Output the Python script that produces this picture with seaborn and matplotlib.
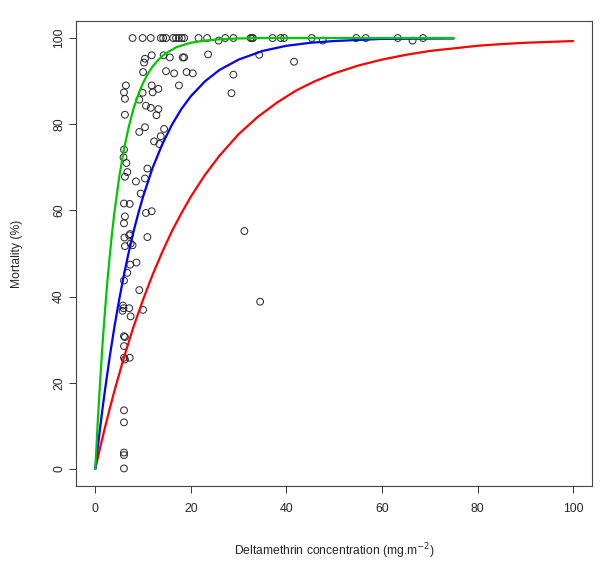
"""Mortality vs deltamethrin concentration with three fitted dose-response curves."""

import matplotlib
matplotlib.use("Agg")
import matplotlib.pyplot as plt
import pandas as pd
import seaborn as sns

# ── Data ──────────────────────────────────────────────────────────────────────

obs_conc = [
    # points at (or very near) 100 %
    7.8, 9.9, 11.6, 13.7, 14.2, 14.8, 16.3, 16.9, 17.5, 18.1, 18.6, 21.6, 23.4,
    25.8, 27.2, 28.9, 32.5, 32.8, 33.0, 37.1, 38.8, 39.5, 45.3, 47.6, 54.6,
    56.6, 63.3, 66.4, 68.6,
    # upper cloud
    23.6, 34.3, 41.6, 28.9, 28.5, 10.4, 10.2, 11.8, 14.3, 15.6, 18.3, 18.6,
    10.0, 14.8, 16.5, 19.1, 20.4, 17.5, 6.4, 6.0, 6.2, 11.8, 13.2, 12.0, 9.9,
    9.2, 10.6, 11.6, 13.2, 12.8, 6.2, 10.4, 9.2, 14.4, 13.7, 12.3, 13.4,
    # middle
    6.0, 5.9, 6.5, 10.9, 6.7, 6.2, 8.5, 10.4, 9.5, 6.0, 7.2, 11.8, 10.6,
    6.2, 6.0, 7.1, 7.3, 6.1, 10.9, 6.2, 7.8, 7.4, 8.6, 7.3, 6.7, 6.0, 9.2,
    5.8, 5.9, 5.7, 7.1, 10.0, 7.4, 31.2, 34.5,
    # lower
    6.2, 6.0, 6.0, 6.0, 7.2, 6.2, 6.0, 6.0, 6.0, 6.0, 6.0,
]
obs_mort = [
    100, 100, 100, 100, 100, 100, 100, 100, 100, 100, 100, 100, 100,
    99.4, 100, 100, 100, 100, 100, 100, 100, 100, 100, 99.4, 100,
    100, 100, 99.4, 100,
    96.2, 96.1, 94.5, 91.5, 87.2, 95.2, 94.3, 96.0, 96.0, 95.5, 95.5, 95.5,
    92.1, 92.3, 91.8, 92.1, 91.8, 89.0, 89.0, 87.4, 85.9, 89.0, 88.2, 87.4, 87.3,
    85.7, 84.3, 83.8, 83.5, 82.1, 82.2, 79.3, 78.2, 78.9, 77.2, 76.0, 75.4,
    74.1, 72.3, 71.0, 69.7, 68.9, 67.8, 66.7, 67.4, 63.9, 61.6, 61.5, 59.8, 59.4,
    58.6, 57.0, 54.2, 54.5, 53.7, 53.8, 51.7, 51.9, 52.3, 47.9, 47.4, 45.5, 43.7, 41.5,
    37.9, 37.3, 36.7, 37.3, 36.9, 35.4, 55.2, 38.8,
    30.6, 30.8, 28.5, 25.8, 25.8, 25.4, 13.6, 10.8, 3.8, 3.2, 0.1,
]

green_x = [0, 0.5, 1, 1.5, 2, 2.5, 3, 3.5, 4, 5, 6, 7, 8, 9, 10, 11, 12, 13,
           14, 15, 17, 20, 23, 26, 30, 35, 40, 50, 60, 75]
green_y = [0, 10.7, 20.2, 28.8, 36.3, 43.2, 49.2, 54.7, 59.5, 67.7, 74.2, 79.4,
           83.6, 86.9, 89.6, 91.7, 93.4, 94.7, 95.8, 96.6, 97.9, 98.9, 99.4,
           99.7, 99.9, 100, 100, 100, 100, 100]

blue_x = [0, 0.5, 1, 1.5, 2, 3, 4, 5, 6, 7, 8, 9, 10, 12, 14, 16, 18, 20, 23,
          26, 30, 35, 40, 45, 50, 60, 75]
blue_y = [0, 4.9, 9.5, 13.9, 18.1, 25.9, 33.0, 39.3, 45.1, 50.3, 55.1, 59.3,
          63.2, 69.9, 75.3, 79.8, 83.5, 86.5, 90.0, 92.6, 95.0, 97.0, 98.2,
          98.9, 99.3, 99.8, 99.9]

red_x = [0, 1, 2, 3, 4, 6, 8, 10, 12, 14, 16, 18, 20, 23, 26, 30, 34, 38, 42,
         46, 50, 55, 60, 65, 70, 75, 80, 85, 90, 95, 100]
red_y = [0, 4.9, 9.5, 13.9, 18.1, 25.9, 33.0, 39.3, 45.1, 50.3, 55.1, 59.3,
         63.2, 68.3, 72.7, 77.7, 81.7, 85.0, 87.8, 90.0, 91.8, 93.6, 95.0,
         96.1, 97.0, 97.6, 98.2, 98.6, 98.9, 99.1, 99.3]

ticks = [0, 20, 40, 60, 80, 100]

# ── Plot ──────────────────────────────────────────────────────────────────────

sns.set_style("white")
plt.rcParams["font.family"] = ["Liberation Sans", "DejaVu Sans"]
plt.rcParams["font.size"] = 8.7

fig = plt.figure(figsize=(6.0, 5.62), dpi=100)
ax = fig.add_axes([0.127, 0.135, 0.86, 0.828])

obs = pd.DataFrame({"conc": obs_conc, "mort": obs_mort})
sns.scatterplot(data=obs, x="conc", y="mort", ax=ax, marker="o", s=24,
                facecolor="none", edgecolor="#222222", linewidth=0.7, zorder=2)

for xs, ys, col in [(red_x, red_y, "#ff0000"),
                    (blue_x, blue_y, "#0000ff"),
                    (green_x, green_y, "#00c800")]:
    sns.lineplot(x=xs, y=ys, ax=ax, color=col, linewidth=1.6,
                 estimator=None, sort=False, zorder=3)

ax.set_xlim(-4, 104)
ax.set_ylim(-4, 104)
ax.set_xticks(ticks)
ax.set_yticks(ticks)
ax.set_yticklabels([str(t) for t in ticks], rotation=90, va="center")
ax.tick_params(direction="out", length=5, width=0.7, color="#333333",
               labelsize=8.7, bottom=True, left=True)
ax.tick_params(axis="x", pad=7)
ax.tick_params(axis="y", pad=3)
for sp in ax.spines.values():
    sp.set_color("#444444")
    sp.set_linewidth(0.8)

ax.set_xlabel("Deltamethrin concentration (mg.m$^{-2}$)", fontsize=8.7, labelpad=19)
ax.set_ylabel("Mortality (%)", fontsize=8.7, labelpad=22)

fig.savefig("out.png", dpi=100)
